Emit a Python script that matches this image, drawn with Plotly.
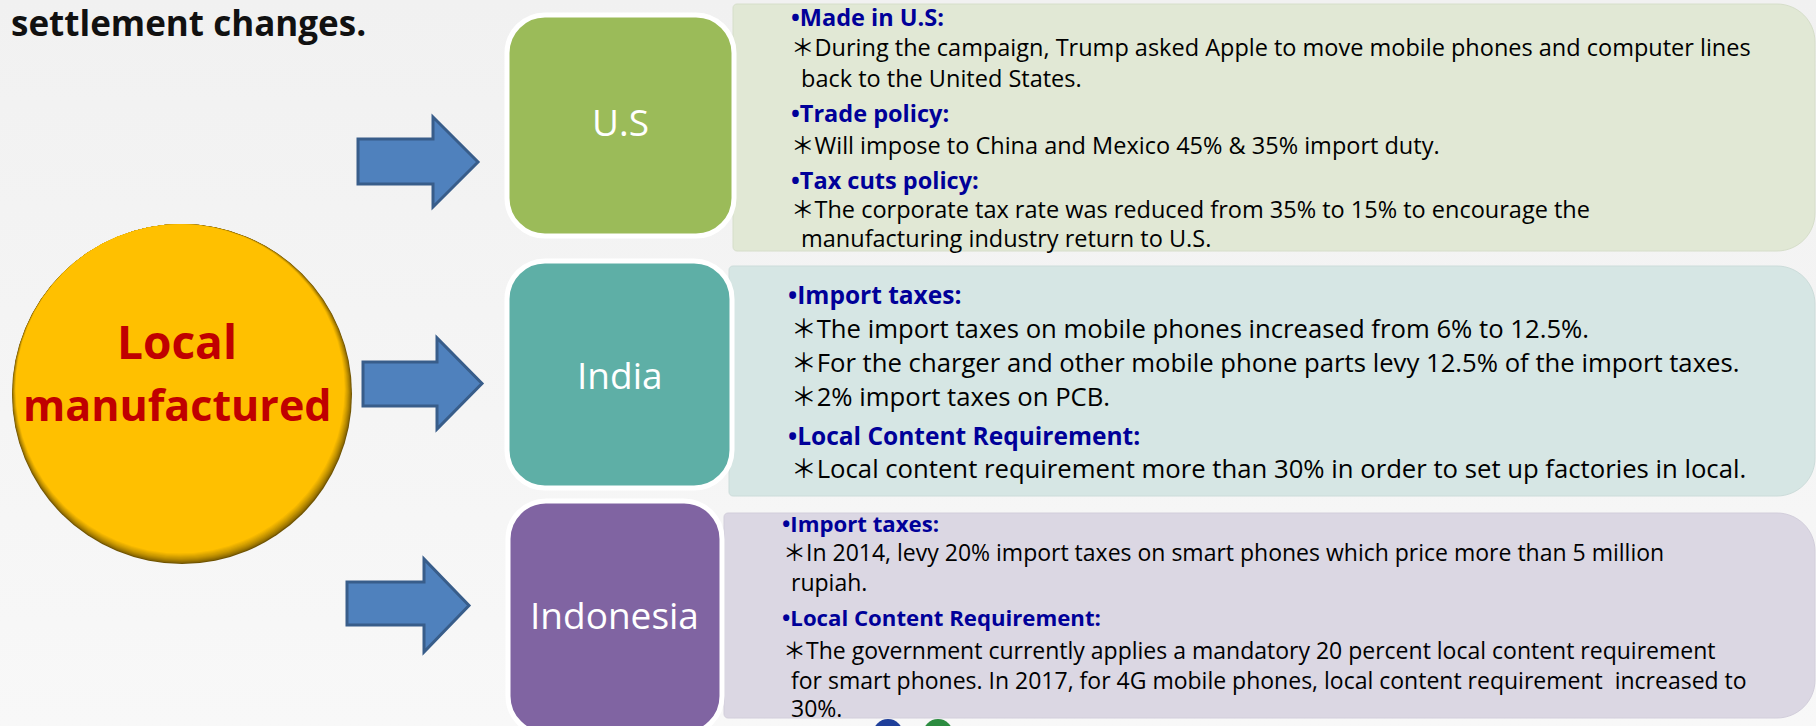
import plotly.graph_objects as go

W, H = 1816, 726

# ---------------- content ----------------
title_text = "settlement changes."
hub_lines = ["Local", "manufactured"]
countries = ["U.S", "India", "Indonesia"]

us_kinds = ["h", "b", "c", "h", "b", "h", "b", "c"]
us_lines = [
    "•Made in U.S:",
    "＊During the campaign, Trump asked Apple to move mobile phones and computer lines",
    "back to the United States.",
    "•Trade policy:",
    "＊Will impose to China and Mexico 45% &amp; 35% import duty.",
    "•Tax cuts policy:",
    "＊The corporate tax rate was reduced from 35% to 15% to encourage the",
    "manufacturing industry return to U.S.",
]

india_kinds = ["h", "b", "b", "b", "h", "b"]
india_lines = [
    "•Import taxes:",
    "＊The import taxes on mobile phones increased from 6% to 12.5%.",
    "＊For the charger and other mobile phone parts levy 12.5% of the import taxes.",
    "＊2% import taxes on PCB.",
    "•Local Content Requirement:",
    "＊Local content requirement more than 30% in order to set up factories in local.",
]

indo_kinds = ["h", "b", "c", "h", "b", "c", "c"]
indo_lines = [
    "•Import taxes:",
    "＊In 2014, levy 20% import taxes on smart phones which price more than 5 million",
    "rupiah.",
    "•Local Content Requirement:",
    "＊The government currently applies a mandatory 20 percent local content requirement",
    "for smart phones. In 2017, for 4G mobile phones, local content requirement  increased to",
    "30%.",
]

# ---------------- layout / style ----------------
FONT = "Open Sans, Noto Sans CJK TC, sans-serif"
HEAD_COLOR = "#000099"
BOX_COLORS = ["#9BBB59", "#5EAFA6", "#8064A2"]
PANEL_COLORS = ["#E1E8D5", "#D6E6E4", "#DBD7E3"]
PANEL_LINES = ["#D6DECA", "#CCDCDA", "#D2CEDB"]
ARROW_FILL = "#4F81BD"
ARROW_LINE = "#385D8A"

box_geo = [(507, 15, 734, 236), (507, 261, 732, 488), (508, 501, 722, 734)]
box_label_pos = [(620, 121), (620, 374), (614, 614)]
panel_geo = [(733, 4, 1815, 251), (729, 266, 1815, 496), (724, 513, 1815, 718)]

# arrows: (x_left, x_head, x_tip, body_top, body_bot, head_top, head_bot)
arrow_geo = [
    (358, 433, 478, 139, 184, 117, 207),
    (363, 437, 482, 362, 406, 338, 429),
    (347, 424, 469, 582, 625, 559, 652),
]

panel_text = [
    dict(lines=us_lines, kinds=us_kinds, hsize=23.5, bsize=23.5,
         y=[17, 47, 78, 113, 145, 180, 209, 238], xh=789, xb=789, xc=799),
    dict(lines=india_lines, kinds=india_kinds, hsize=24.5, bsize=25.7,
         y=[294, 328, 362, 396, 435, 468], xh=786, xb=789, xc=798),
    dict(lines=indo_lines, kinds=indo_kinds, hsize=22.2, bsize=23,
         y=[523, 552, 582, 617, 650, 680, 708], xh=780, xb=781, xc=789),
]

hub_center = (182, 394)
hub_r = 170


def rrect(x0, y0, x1, y1, rtl, rtr, rbr, rbl):
    k = 0.5523
    p = f"M {x0 + rtl},{y0} L {x1 - rtr},{y0} "
    p += f"C {x1 - rtr + k * rtr},{y0} {x1},{y0 + rtr - k * rtr} {x1},{y0 + rtr} "
    p += f"L {x1},{y1 - rbr} "
    p += f"C {x1},{y1 - rbr + k * rbr} {x1 - rbr + k * rbr},{y1} {x1 - rbr},{y1} "
    p += f"L {x0 + rbl},{y1} "
    p += f"C {x0 + rbl - k * rbl},{y1} {x0},{y1 - rbl + k * rbl} {x0},{y1 - rbl} "
    p += f"L {x0},{y0 + rtl} "
    p += f"C {x0},{y0 + rtl - k * rtl} {x0 + rtl - k * rtl},{y0} {x0 + rtl},{y0} Z"
    return p


def mix(c1, c2, t):
    a = [int(c1[i:i + 2], 16) for i in (1, 3, 5)]
    b = [int(c2[i:i + 2], 16) for i in (1, 3, 5)]
    return "#" + "".join(f"{round(a[j] + (b[j] - a[j]) * t):02x}" for j in range(3))


fig = go.Figure()

# background with soft vertical gradient
fig.add_trace(go.Scatter(
    x=[0, W, W, 0, 0], y=[0, 0, H, H, 0], fill="toself", mode="none",
    fillgradient=dict(type="vertical",
                      colorscale=[[0, "#F8F8F8"], [1, "#F1F1F1"]]),
    hoverinfo="skip", showlegend=False))

shapes = []

# text panels (behind country boxes)
for (x0, y0, x1, y1), fc, lc in zip(panel_geo, PANEL_COLORS, PANEL_LINES):
    shapes.append(dict(type="path", path=rrect(x0, y0, x1, y1, 4, 38, 38, 4),
                       fillcolor=fc, line=dict(color=lc, width=1)))

# country boxes
for (x0, y0, x1, y1), fc in zip(box_geo, BOX_COLORS):
    shapes.append(dict(type="path", path=rrect(x0, y0, x1, y1, 38, 38, 38, 38),
                       fillcolor=fc, line=dict(color="white", width=5)))

# arrows
for (xl, xh, xt, bt, bb, ht, hb) in arrow_geo:
    ym = (ht + hb) / 2
    p = (f"M {xl},{bt} L {xh},{bt} L {xh},{ht} L {xt},{ym} L {xh},{hb} "
         f"L {xh},{bb} L {xl},{bb} Z")
    shapes.append(dict(type="path", path=p, fillcolor=ARROW_FILL,
                       line=dict(color=ARROW_LINE, width=3)))

# hub circle with inner shadow on lower-right rim
cx, cy = hub_center
n_layers = 10
shift = 5.5
dx, dy = -0.35, -0.94
for i in range(n_layers + 1):
    t = i / n_layers
    d = shift * t
    r = hub_r - d
    ccx, ccy = cx + dx * d, cy + dy * d
    col = mix("#6E5200", "#FFC000", t ** 0.7)
    shapes.append(dict(type="circle", x0=ccx - r, x1=ccx + r, y0=ccy - r, y1=ccy + r,
                       fillcolor=col, line=dict(width=0)))

# small decorative dots at the bottom
for (x, c) in [(888, "#1F3F9A"), (938, "#2C8C40")]:
    shapes.append(dict(type="circle", x0=x - 15, x1=x + 15, y0=719, y1=749,
                       fillcolor=c, line=dict(width=0)))

annotations = []

# title
annotations.append(dict(x=9, y=22, text=f"<b>{title_text}</b>", xanchor="left",
                        yanchor="middle", showarrow=False,
                        font=dict(family=FONT, size=35, color="#111111")))

# hub text
for txt, yy, sz in zip(hub_lines, [341, 404], [46, 43]):
    annotations.append(dict(x=177, y=yy, text=f"<b>{txt}</b>", showarrow=False,
                            xanchor="center", yanchor="middle",
                            font=dict(family=FONT, size=sz, color="#C00000")))

# country labels
for name, (lx, ly) in zip(countries, box_label_pos):
    annotations.append(dict(x=lx, y=ly, text=name, showarrow=False,
                            xanchor="center", yanchor="middle",
                            font=dict(family=FONT, size=37, color="white")))

# panel text
for pt in panel_text:
    for txt, kind, yy in zip(pt["lines"], pt["kinds"], pt["y"]):
        if kind == "h":
            x, t, col, sz = pt["xh"], f"<b>{txt}</b>", HEAD_COLOR, pt["hsize"]
        elif kind == "b":
            x, t, col, sz = pt["xb"], txt, "#000000", pt["bsize"]
        else:
            x, t, col, sz = pt["xc"], txt, "#000000", pt["bsize"]
        annotations.append(dict(x=x, y=yy, text=t, showarrow=False,
                                xanchor="left", yanchor="middle",
                                font=dict(family=FONT, size=sz, color=col)))

fig.update_layout(
    width=W, height=H,
    margin=dict(l=0, r=0, t=0, b=0),
    paper_bgcolor="#F5F5F5", plot_bgcolor="#F5F5F5",
    xaxis=dict(range=[0, W], visible=False, fixedrange=True),
    yaxis=dict(range=[H, 0], visible=False, fixedrange=True),
    shapes=shapes, annotations=annotations, showlegend=False,
)

fig.write_html("out.html", config={"displayModeBar": False},
               post_script="document.body.style.margin='0';document.body.style.padding='0';")
